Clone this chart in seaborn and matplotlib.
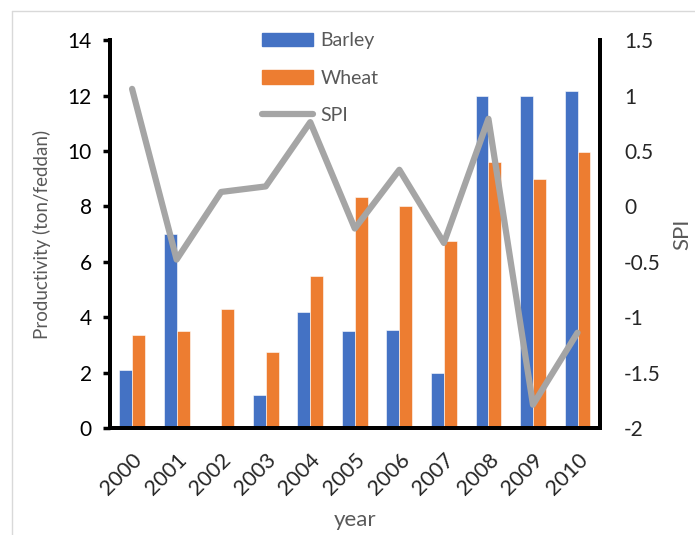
import numpy as np
import pandas as pd
import seaborn as sns
import matplotlib.pyplot as plt
from matplotlib.lines import Line2D
from matplotlib.patches import Patch

# data
years = ["2000", "2001", "2002", "2003", "2004", "2005",
         "2006", "2007", "2008", "2009", "2010"]
barley = [2.1, 7.0, 0.0, 1.2, 4.2, 3.5, 3.55, 2.0, 12.0, 12.0, 12.15]
wheat = [3.35, 3.5, 4.3, 2.75, 5.5, 8.35, 8.0, 6.75, 9.6, 9.0, 9.95]
spi = [1.06, -0.48, 0.13, 0.18, 0.76, -0.2, 0.33, -0.33, 0.79, -1.79, -1.14]

blue = "#4472C4"
orange = "#ED7D31"
grey = "#A5A5A5"
label_col = "#595959"

df = pd.DataFrame({
    "year": years * 2,
    "value": barley + wheat,
    "crop": ["Barley"] * len(years) + ["Wheat"] * len(years),
})

sns.set_style("white")
plt.rcParams["font.family"] = ["Lato", "DejaVu Sans"]

fig = plt.figure(figsize=(6.95, 5.35), dpi=100)
ax = fig.add_axes([0.158, 0.2, 0.705, 0.725])

sns.barplot(data=df, x="year", y="value", hue="crop", ax=ax,
            palette=[blue, orange], width=0.58, saturation=1,
            edgecolor="white", linewidth=0.4, legend=False)
ax.set_xlim(-0.5, len(years) - 0.5)
ax.set_ylim(0, 14)
ax.set_yticks(range(0, 15, 2))
ax.tick_params(axis="y", left=True, direction="out", length=5, width=2.5,
               labelsize=15, colors="black", pad=8)
ax.tick_params(axis="x", bottom=False, labelsize=15.5, rotation=45, pad=12)
for lbl in ax.get_xticklabels():
    lbl.set_ha("right")
    lbl.set_rotation_mode("anchor")
ax.set_xlabel("year", fontsize=16, color=label_col, labelpad=8)
ax.set_ylabel("Productivity (ton/feddan)", fontsize=13.5, color=label_col,
              labelpad=12)

ax2 = ax.twinx()
sns.lineplot(x=np.arange(len(years)), y=spi, ax=ax2, color=grey,
             linewidth=4.5)
ax2.set_ylim(-2, 1.5)
ax2.set_yticks(np.arange(-2, 1.51, 0.5))
ax2.set_yticklabels(["-2", "-1.5", "-1", "-0.5", "0", "0.5", "1", "1.5"])
ax2.tick_params(axis="y", right=False, labelsize=15, pad=14)
ax2.set_ylabel("SPI", fontsize=16, color=label_col, labelpad=8)

for a in (ax, ax2):
    a.spines["top"].set_visible(False)
    for s in ("left", "right", "bottom"):
        a.spines[s].set_linewidth(2.8)
        a.spines[s].set_color("black")

handles = [Patch(color=blue), Patch(color=orange),
           Line2D([], [], color=grey, linewidth=4.5)]
leg = ax2.legend(handles, ["Barley", "Wheat", "SPI"], loc="upper left",
                 bbox_to_anchor=(0.275, 1.065), frameon=False, fontsize=14,
                 handlelength=2.6, handleheight=0.7, labelspacing=1.05,
                 handletextpad=0.4)
for t in leg.get_texts():
    t.set_color(label_col)

# light chart-area frame
fig.add_artist(Line2D([12 / 695, 12 / 695], [0, 1 - 11 / 535],
                      transform=fig.transFigure, color="#D9D9D9", lw=1))
fig.add_artist(Line2D([12 / 695, 1], [1 - 11 / 535, 1 - 11 / 535],
                      transform=fig.transFigure, color="#D9D9D9", lw=1))

fig.savefig("out.png", dpi=100)
